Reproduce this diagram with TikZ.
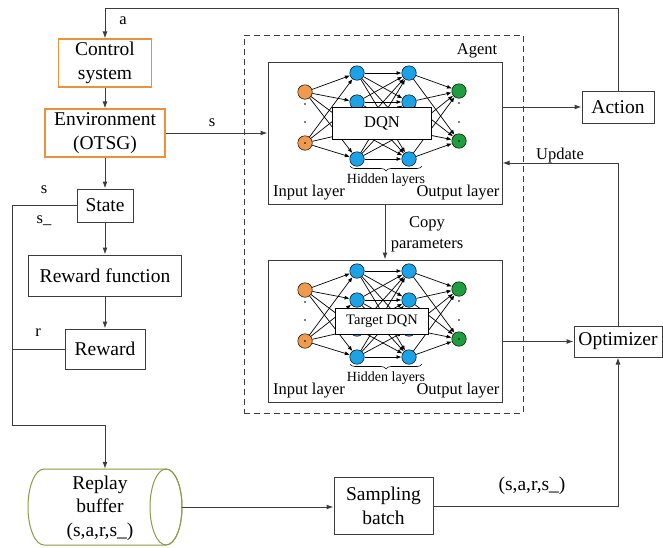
\documentclass[tikz,border=0pt]{standalone}
\usepackage{fontspec}
\setmainfont{Liberation Serif}
\usetikzlibrary{arrows.meta,decorations.pathreplacing,calc}
\definecolor{lc}{HTML}{3C3C3C}
\definecolor{obord}{HTML}{E8923C}
\definecolor{cylc}{HTML}{8C9A4A}
\definecolor{nor}{HTML}{F09A50}
\definecolor{nbl}{HTML}{1AA3E6}
\definecolor{ngr}{HTML}{1E9E3E}
\tikzset{
  big/.style={font=\fontsize{19.5}{23.5}\selectfont},
  mid/.style={font=\fontsize{16.5}{21}\selectfont},
  sml/.style={font=\fontsize{14}{16}\selectfont},
  blk/.style={draw=lc, line width=1pt, big, inner sep=0pt, align=center},
  oblk/.style={big, inner sep=0pt, align=center, draw=obord, line width=1.1pt},
  ln/.style={draw=lc, line width=1pt},
  ar/.style={ln, -{Latex[length=7pt,width=5pt]}},
  nnar/.style={draw=black, line width=0.7pt, -{Latex[length=5pt,width=4pt]}},
  neur/.style={circle, draw=black, line width=0.5pt, minimum size=14.5pt, inner sep=0pt},
  lbl/.style={inner sep=0pt},
  dotn/.style={circle, fill=black, minimum size=1.6pt, inner sep=0pt},
}
\newcommand{\nnet}[5]{% prefix, top y, label text, label width, label height
  \foreach \k/\dy in {1/30,2/81} \node[neur, fill=nor] (#1i\k) at (305,#2+\dy) {};
  \foreach \k/\dy in {1/11,2/40,3/69,4/97} {
    \node[neur, fill=nbl] (#1a\k) at (357,#2+\dy) {};
    \node[neur, fill=nbl] (#1b\k) at (409,#2+\dy) {};
  }
  \foreach \k/\dy in {1/29,2/79} \node[neur, fill=ngr] (#1o\k) at (459,#2+\dy) {};
  \foreach \p in {1,2} \foreach \q in {1,...,4} \draw[nnar] (#1i\p) -- (#1a\q);
  \foreach \p in {1,...,4} \foreach \q in {1,...,4} \draw[nnar] (#1a\p) -- (#1b\q);
  \foreach \p in {1,...,4} \foreach \q in {1,2} \draw[nnar] (#1b\p) -- (#1o\q);
  \foreach \k/\dy in {1/42,2/60,3/81} \node[dotn] (#1di\k) at (305,#2+\dy) {};
  \foreach \k/\dy in {1/41,2/60,3/79} \node[dotn] (#1do\k) at (459,#2+\dy) {};
  \node[draw=black, line width=0.8pt, fill=white, minimum width=#4, minimum height=#5, inner sep=0pt, mid] (#1lab) at (382,#2+61) {#3};
  \draw[line width=0.6pt, decorate, decoration={brace, mirror, amplitude=5pt}] (350,#2+104) -- (422,#2+104);
  \node[sml, lbl] (#1hid) at (386,#2+118) {Hidden layers};
  \node[mid, lbl] (#1inl) at (309,#2+131) {Input layer};
  \node[mid, lbl] (#1outl) at (458,#2+131) {Output layer};
}
\begin{document}
\begin{tikzpicture}[x=1pt, y=-1pt]
\useasboundingbox (0,0) rectangle (663,547);

% left column
\node[oblk, minimum width=93, minimum height=48] (ctrl) at (105,63) {Control\\system};
\node[oblk, minimum width=120, minimum height=48] (env) at (105,133) {Environment\\(OTSG)};
\node[blk, minimum width=56, minimum height=33] (state) at (105,205.5) {State};
\node[blk, minimum width=153, minimum height=41] (rf) at (105,275.5) {Reward function};
\node[blk, minimum width=80, minimum height=40] (rew) at (105,349) {Reward};

% replay buffer cylinder
\node[minimum width=154, minimum height=76, inner sep=0pt] (buf) at (105,507) {};
\draw[draw=cylc, line width=1pt] (44,469) -- (166,469) arc[start angle=-90, end angle=90, x radius=16, y radius=38] -- (44,545) arc[start angle=90, end angle=270, x radius=16, y radius=38];
\draw[draw=cylc, line width=1pt] (166,507) ellipse[x radius=16, y radius=38];
\node[big, align=center, lbl] (buftxt) at (100,508) {Replay\\buffer\\(s,a,r,s\_)};

\node[blk, minimum width=99, minimum height=57] (samp) at (383.5,506) {Sampling\\batch};
\node[blk, minimum width=88, minimum height=31] (opt) at (618,341.5) {Optimizer};
\node[blk, minimum width=72, minimum height=32] (action) at (618,107) {Action};

% agent
\node[draw=lc, line width=0.9pt, dash pattern=on 6pt off 4pt, minimum width=279, minimum height=378, inner sep=0pt] (agent) at (383.5,224) {};
\node[mid, lbl] (agentlab) at (477,51) {Agent};
\node[draw=lc, line width=1pt, minimum width=234, minimum height=142, inner sep=0pt] (dqn) at (385,133) {};
\node[draw=lc, line width=1pt, minimum width=234, minimum height=142, inner sep=0pt] (tgt) at (385,331) {};
\nnet{d}{62}{DQN}{99}{32}
\nnet{t}{260}{\fontsize{14.5}{17}\selectfont Target DQN}{93}{26}
\node[mid, align=center, lbl] (copy) at (427,234) {Copy\\parameters};

% connectors
\coordinate (tp) at (105,8);
\coordinate (lft) at (12,425);
\coordinate (updy) at (0,163);
\draw[ar] (action.north) |- (tp) -- (ctrl.north);
\node[mid, lbl] (alab) at (123,21) {a};
\draw[ar] (ctrl.south) -- (env.north);
\draw[ar] (env.east) -- (dqn.west |- env.east);
\node[mid, lbl] (slab) at (212,123) {s};
\draw[ar] (env.south) -- (state.north);
\draw[ar] (state.south) -- (rf.north);
\draw[ar] (rf.south) -- (rew.north);
\draw[ar] (state.west) -| (lft) -| (buf.north);
\draw[ln] (rew.west) -- (rew.west -| lft);
\node[mid, lbl] (s1lab) at (44,190) {s};
\node[mid, lbl] (s2lab) at (44,221) {s\_};
\node[mid, lbl] (rlab) at (38,333) {r};
\draw[ar] (buf.east) -- (samp.west |- buf.east);
\draw[ar] (samp.east) -| (opt.south);
\node[big, lbl] (tuplab) at (532,486) {(s,a,r,s\_)};
\draw[ar] (tgt.east |- opt.west) -- (opt.west);
\draw[ar] (opt.north) |- (dqn.east |- updy);
\node[mid, lbl] (updlab) at (560,156) {Update};
\draw[ar] (dqn.east |- action.west) -- (action.west);
\draw[ar] (dqn.south) -- (tgt.north);
\end{tikzpicture}
\end{document}
